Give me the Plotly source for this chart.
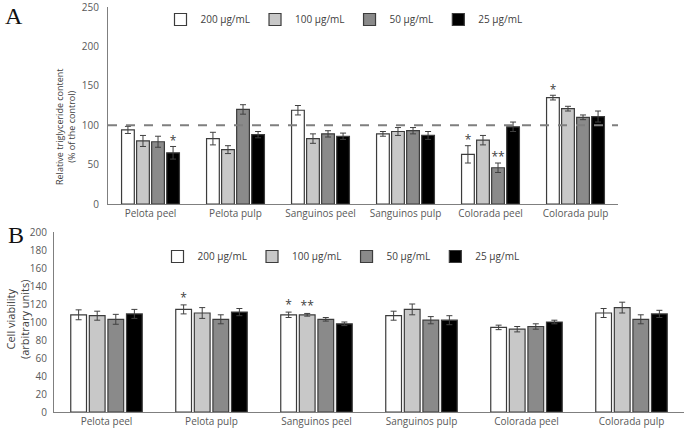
import numpy as np
import plotly.graph_objects as go

categories = ["Pelota peel", "Pelota pulp", "Sanguinos peel", "Sanguinos pulp", "Colorada peel", "Colorada pulp"]
series_names = ["200 μg/mL", "100 μg/mL", "50 μg/mL", "25 μg/mL"]

# Panel A: relative triglyceride content (% of control)
tg_200 = [94, 83, 119, 89, 63, 135]
tg_100 = [80, 69, 83, 92, 81, 121]
tg_50 = [79, 120, 89, 93, 46, 110]
tg_25 = [65, 88, 86, 87, 98, 111]
tg_err_200 = [4.5, 8, 6, 3, 11, 3]
tg_err_100 = [7, 5, 6, 5, 6, 3]
tg_err_50 = [7, 6, 4, 4, 6, 3]
tg_err_25 = [8, 4, 4, 5, 6, 7]
tg_stars = [(0, 3, "*"), (4, 0, "*"), (4, 2, "**"), (5, 0, "*")]

# Panel B: cell viability (arbitrary units)
cv_200 = [108, 114, 108, 107, 94, 110]
cv_100 = [107, 110, 108, 114, 92, 116]
cv_50 = [103, 103, 103, 102, 95, 103]
cv_25 = [109, 111, 98, 102, 100, 109]
cv_err_200 = [5.5, 5, 3, 5, 2.5, 5]
cv_err_100 = [5, 6, 1.5, 6, 3, 6]
cv_err_50 = [5.5, 5, 2, 4, 3, 5]
cv_err_25 = [5, 4, 2, 5, 2, 4]
cv_stars = [(1, 0, "*"), (2, 0, "*"), (2, 1, "**")]

fills = ["#ffffff", "#c8c8c8", "#8a8a8a", "#000000"]
outline = "#3c3c3c"
pitch = 0.177
bar_w = 0.15
offsets = [-1.5 * pitch, -0.5 * pitch, 0.5 * pitch, 1.5 * pitch]
base_x = np.arange(len(categories))

tick_font = dict(family="Open Sans, Liberation Sans, sans-serif", size=10, color="#595959")

fig = go.Figure()

panels = [
    ("x", "y", "legend", [tg_200, tg_100, tg_50, tg_25], [tg_err_200, tg_err_100, tg_err_50, tg_err_25], tg_stars, 6),
    ("x2", "y2", "legend2", [cv_200, cv_100, cv_50, cv_25], [cv_err_200, cv_err_100, cv_err_50, cv_err_25], cv_stars, 7),
]

for xa, ya, lg, vals, errs, stars, star_pad in panels:
    for i in range(4):
        fig.add_trace(go.Bar(
            x=base_x + offsets[i], y=vals[i], width=bar_w, name=series_names[i],
            marker=dict(color=fills[i], line=dict(color=outline, width=1.2)),
            error_y=dict(type="data", array=errs[i], visible=True, color="#404040", thickness=1, width=3),
            xaxis=xa, yaxis=ya, legend=lg, showlegend=True,
        ))
    sx, sy, st = [], [], []
    for g, s, label in stars:
        sx.append(base_x[g] + offsets[s])
        sy.append(vals[s][g] + errs[s][g] + star_pad)
        st.append(label)
    fig.add_trace(go.Scatter(
        x=sx, y=sy, text=st, mode="text", textposition="middle center",
        textfont=dict(family="Open Sans, sans-serif", size=12, color="#404040"),
        xaxis=xa, yaxis=ya, showlegend=False, hoverinfo="skip",
    ))

W, H = 685, 431
axis_common = dict(showgrid=False, zeroline=False, ticks="", tickfont=tick_font, automargin=False,
                   ticklabeloverflow="allow", showline=True, linecolor="#7f7f7f", linewidth=1)

leg_common = dict(orientation="h", xanchor="center", yanchor="top",
                  font=dict(family="Open Sans, sans-serif", size=10, color="#404040"),
                  itemwidth=30, bgcolor="rgba(0,0,0,0)", tracegroupgap=0)

fig.update_layout(
    width=W, height=H,
    margin=dict(l=0, r=0, t=0, b=0, autoexpand=False),
    paper_bgcolor="white", plot_bgcolor="white",
    showlegend=True,
    xaxis=dict(domain=[108 / W, 618 / W], range=[-0.5, 5.5], tickvals=list(base_x), ticktext=categories,
               anchor="y", **axis_common),
    yaxis=dict(domain=[1 - 204 / H, 1 - 7 / H], range=[0, 250], tickvals=[0, 50, 100, 150, 200, 250],
               anchor="x", ticklabelstandoff=6, **axis_common),
    xaxis2=dict(domain=[54 / W, 684 / W], range=[-0.5, 5.5], tickvals=list(base_x), ticktext=categories,
                anchor="y2", **axis_common),
    yaxis2=dict(domain=[1 - 412 / H, 1 - 232 / H], range=[0, 200], dtick=20, anchor="x2",
                ticklabelstandoff=4, **axis_common),
    legend=dict(x=344 / W, y=1 - 5 / H, **leg_common),
    legend2=dict(x=341 / W, y=1 - 242 / H, **leg_common),
    shapes=[dict(type="line", xref="x domain", x0=0, x1=1, yref="y", y0=100, y1=100,
                 line=dict(color="#7f7f7f", width=2, dash="dash"))],
    annotations=[
        dict(text="A", x=3 / W, y=1 - 1 / H, xref="paper", yref="paper", xanchor="left", yanchor="top",
             showarrow=False, font=dict(family="Liberation Serif, serif", size=24, color="#111")),
        dict(text="B", x=6 / W, y=1 - 220 / H, xref="paper", yref="paper", xanchor="left", yanchor="top",
             showarrow=False, font=dict(family="Liberation Serif, serif", size=24, color="#111")),
        dict(text="Relative triglyceride content<br>(% of the control)", x=65 / W, y=1 - 127 / H,
             xref="paper", yref="paper", xanchor="center", yanchor="middle", textangle=-90, showarrow=False,
             font=dict(family="Open Sans, sans-serif", size=9, color="#404040")),
        dict(text="Cell viability<br>(arbitrary units)", x=17 / W, y=1 - 320 / H,
             xref="paper", yref="paper", xanchor="center", yanchor="middle", textangle=-90, showarrow=False,
             font=dict(family="Open Sans, sans-serif", size=11, color="#404040")),
    ],
)

fig.write_html("out.html", config={"displayModeBar": False},
               post_script="document.body.style.margin='0';document.body.style.overflow='hidden';")
